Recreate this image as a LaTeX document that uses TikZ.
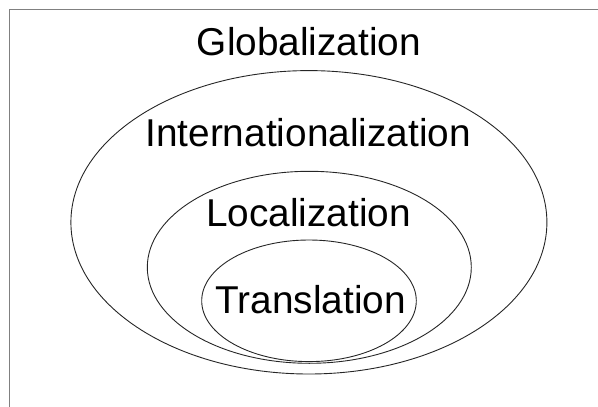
\documentclass[tikz,border=0pt]{standalone}
\usepackage{fontspec}
\setmainfont{Liberation Sans}
\usetikzlibrary{shapes.geometric}
\tikzset{
  ring/.style={draw=black!85, line width=0.9pt, ellipse, inner sep=0pt, outer sep=0pt},
  label/.style={anchor=base, inner sep=0pt, font=\fontsize{38.8}{40}\selectfont},
  frame/.style={draw=black!50, line width=1pt}
}
\begin{document}
\begin{tikzpicture}[x=1pt, y=-1pt]
  \useasboundingbox (0,0) rectangle (598,407);
  % outer frame (left and top edges)
  \draw[frame] (9,420) -- (9,9) -- (610,9);
  % nested ellipses
  \node[ring, minimum width=476pt, minimum height=303.4pt] (intl) at (308.9,222.3) {};
  \node[ring, minimum width=324pt, minimum height=192pt] (loc) at (309.3,267.3) {};
  \node[ring, minimum width=214.6pt, minimum height=121.6pt] (trans) at (309,300.8) {};
  % labels
  \node[label] (tglob) at (309,55) {Globalization};
  \node[label] (tintl) at (308.2,146.7) {Internationalization};
  \node[label] (tloc) at (308.7,226.7) {Localization};
  \node[label] (ttrans) at (310.7,313.3) {Translation};
\end{tikzpicture}
\end{document}
